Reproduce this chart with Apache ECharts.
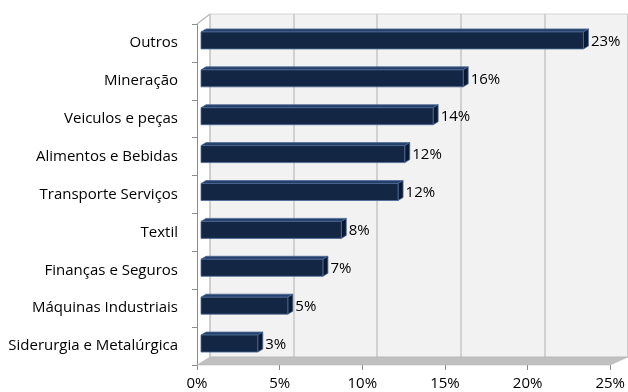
<!DOCTYPE html>
<html>
<head>
<meta charset="utf-8">
<script src="https://cdn.jsdelivr.net/npm/echarts@6/dist/echarts.min.js"></script>
<style>
  html, body { margin: 0; padding: 0; background: #ffffff; }
  #chart { width: 628px; height: 392px; }
</style>
</head>
<body>
<div id="chart"></div>
<script>
// Sector shares (%), top to bottom
const categories = [
  'Outros',
  'Mineração',
  'Veiculos e peças',
  'Alimentos e Bebidas',
  'Transporte Serviços',
  'Textil',
  'Finanças e Seguros',
  'Máquinas Industriais',
  'Siderurgia e Metalúrgica'
];
const shares = [22.9, 15.7, 13.9, 12.2, 11.8, 8.4, 7.3, 5.2, 3.4];
const axisMin = 0;
const axisMax = 25;
const axisStep = 5;

const FONT = '"Open Sans", "Noto Sans", sans-serif';
const FONT_SIZE = 15;
const DEPTH_X = 5;    // bar extrusion, px
const DEPTH_Y = -3;
const BAR_H = 17;

const chart = echarts.init(document.getElementById('chart'), null, { renderer: 'canvas' });

function renderBar(params, api) {
  const idx = api.value(1);
  const v = api.value(0);
  const start = api.coord([axisMin, idx]);
  const end = api.coord([v, idx]);
  const y0 = start[1] - BAR_H / 2;
  const y1 = start[1] + BAR_H / 2;
  const x0 = start[0];
  const x1 = end[0];
  const edge = '#4d6a96';
  return {
    type: 'group',
    children: [
      { // top face
        type: 'polygon',
        shape: { points: [[x0, y0], [x0 + DEPTH_X, y0 + DEPTH_Y], [x1 + DEPTH_X, y0 + DEPTH_Y], [x1, y0]] },
        style: { fill: '#24406b', stroke: edge, lineWidth: 0.8 }
      },
      { // right face
        type: 'polygon',
        shape: { points: [[x1, y0], [x1 + DEPTH_X, y0 + DEPTH_Y], [x1 + DEPTH_X, y1 + DEPTH_Y], [x1, y1]] },
        style: { fill: '#0b1a33', stroke: edge, lineWidth: 0.8 }
      },
      { // front face
        type: 'rect',
        shape: { x: x0, y: y0, width: x1 - x0, height: y1 - y0 },
        style: { fill: '#132745', stroke: edge, lineWidth: 0.8 }
      },
      { // value label
        type: 'text',
        x: x1 + DEPTH_X + 2.5,
        y: (y0 + y1) / 2 + 1,
        style: {
          text: Math.round(v) + '%',
          fill: '#000000',
          font: FONT_SIZE + 'px ' + FONT,
          textVerticalAlign: 'middle',
          textAlign: 'left'
        }
      }
    ]
  };
}

const option = {
  animation: false,
  grid: [
    // back wall
    { left: 210, right: 0, top: 14, bottom: 35, show: true, backgroundColor: '#f2f2f2', borderColor: '#d4d4d4', borderWidth: 1 },
    // plane of the bars
    { left: 201, right: 9.5, top: 21.5, bottom: 29.5 },
    // front plane (axes)
    { left: 197, right: 13, top: 24, bottom: 27 }
  ],
  xAxis: [
    {
      gridIndex: 0, type: 'value', min: axisMin, max: axisMax, interval: axisStep,
      axisLine: { show: false }, axisTick: { show: false }, axisLabel: { show: false },
      splitLine: { show: true, lineStyle: { color: '#c6c6c6', width: 1.5 } }
    },
    {
      gridIndex: 1, type: 'value', min: axisMin, max: axisMax, interval: axisStep,
      show: false, splitLine: { show: false }
    },
    {
      gridIndex: 2, type: 'value', min: axisMin, max: axisMax, interval: axisStep,
      axisLine: { show: false },
      axisTick: { show: true, length: 5, lineStyle: { color: '#8c8c8c' } },
      axisLabel: { show: true, margin: 11, formatter: '{value}%', color: '#000000', fontSize: FONT_SIZE, fontFamily: FONT },
      splitLine: { show: false }
    }
  ],
  yAxis: [
    { gridIndex: 0, type: 'category', data: categories, inverse: true, show: false },
    { gridIndex: 1, type: 'category', data: categories, inverse: true, show: false },
    {
      gridIndex: 2, type: 'category', data: categories, inverse: true,
      axisLine: { show: true, lineStyle: { color: '#8c8c8c', width: 1 } },
      axisTick: { show: true, length: 5, lineStyle: { color: '#8c8c8c' } },
      axisLabel: { margin: 19, color: '#000000', fontSize: FONT_SIZE, fontFamily: FONT, padding: [3, 0, 0, 0] },
      splitLine: { show: false }
    }
  ],
  series: [
    {
      type: 'custom',
      xAxisIndex: 1,
      yAxisIndex: 1,
      renderItem: renderBar,
      data: shares.map((v, i) => [v, i]),
      encode: { x: 0, y: 1 },
      z: 10
    }
  ]
};

chart.setOption(option);

// Floor slab and the slanted corner edge, placed from the axis geometry
const fl = chart.convertToPixel({ gridIndex: 2 }, [axisMin, categories.length - 1]);
const fr = chart.convertToPixel({ gridIndex: 2 }, [axisMax, categories.length - 1]);
const bl = chart.convertToPixel({ gridIndex: 0 }, [axisMin, categories.length - 1]);
const br = chart.convertToPixel({ gridIndex: 0 }, [axisMax, categories.length - 1]);
const bandFront = chart.getModel().getComponent('yAxis', 2).axis.getBandWidth() / 2;
const bandBack = chart.getModel().getComponent('yAxis', 0).axis.getBandWidth() / 2;
const frontBottom = fl[1] + bandFront;
const backBottom = bl[1] + bandBack;
const frontTop = chart.convertToPixel({ gridIndex: 2 }, [axisMin, 0])[1] - bandFront;
const backTop = chart.convertToPixel({ gridIndex: 0 }, [axisMin, 0])[1] - bandBack;

chart.setOption({
  graphic: [
    {
      type: 'polygon', z: 5,
      shape: { points: [[fl[0], frontBottom], [bl[0], backBottom], [br[0], backBottom], [fr[0], frontBottom]] },
      style: { fill: '#c0c0c0', stroke: '#b0b0b0', lineWidth: 0.5 }
    },
    {
      type: 'line', z: 5,
      shape: { x1: fl[0], y1: frontTop, x2: bl[0], y2: backTop },
      style: { stroke: '#bdbdbd', lineWidth: 1.5 }
    }
  ]
});
</script>
</body>
</html>
